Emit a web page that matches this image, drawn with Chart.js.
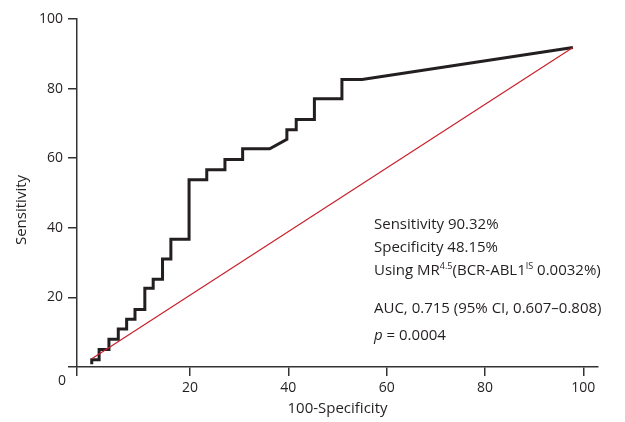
<!DOCTYPE html>
<html lang="en">
<head>
  <meta charset="UTF-8">
  <title>ROC curve</title>
  <script src="https://cdn.jsdelivr.net/npm/chart.js"></script>
  <style>
    body {
      margin: 0;
      padding: 0;
      background: white;
    }
  </style>
</head>
<body>
  <canvas id="rocChart" width="625" height="422"></canvas>

  <script>
    // ROC curve corners (100-specificity, sensitivity)
    const rocX = [0, 0, 1.5, 1.5, 3.5, 3.5, 5.4, 5.4, 7.1, 7.1, 8.8, 8.8, 10.8, 10.8, 12.5, 12.5, 14.4, 14.4, 16.1, 16.1,
                  19.8, 19.8, 23.4, 23.4, 27.1, 27.1, 30.7, 30.7, 36.2, 39.7, 39.7, 41.6, 41.6, 45.3, 45.3, 50.9, 50.9, 55.0, 97.9];
    const rocY = [0.8, 2.1, 2.1, 5.0, 5.0, 8.0, 8.0, 10.9, 10.9, 13.7, 13.7, 16.5, 16.5, 22.6, 22.6, 25.2, 25.2, 31.0, 31.0, 36.7,
                  36.7, 53.8, 53.8, 56.7, 56.7, 59.6, 59.6, 62.7, 62.7, 65.4, 68.2, 68.2, 71.1, 71.1, 77.1, 77.1, 82.6, 82.6, 91.8];
    // reference (chance) line
    const refX = [0, 97.9];
    const refY = [2.4, 91.8];

    const xTicks = [20, 40, 60, 80, 100];
    const yTicks = [0, 20, 40, 60, 80, 100];

    const textColor = '#231f20';
    const axisColor = '#333';
    const fontFamily = "'Open Sans', sans-serif";

    // extra text: corner 0, y title, and the stats box
    const notesPlugin = {
      id: 'notes',
      afterDraw(chart) {
        const ctx = chart.ctx;
        ctx.save();
        ctx.fillStyle = textColor;
        ctx.textBaseline = 'middle';

        ctx.font = `14px ${fontFamily}`;
        ctx.textAlign = 'center';
        ctx.fillText('0', 62, 381);

        ctx.save();
        ctx.translate(22, 210);
        ctx.rotate(-Math.PI / 2);
        ctx.font = `15px ${fontFamily}`;
        ctx.fillText('Sensitivity', 0, 0);
        ctx.restore();

        ctx.textAlign = 'left';
        const drawParts = (parts, x, y) => {
          parts.forEach(p => {
            ctx.font = p.font;
            ctx.fillText(p.text, x, y + (p.dy || 0));
            x += ctx.measureText(p.text).width;
          });
        };
        const f = `15px ${fontFamily}`;
        const sup = `9px ${fontFamily}`;
        const left = 374;
        drawParts([{ text: 'Sensitivity 90.32%', font: f }], left, 225);
        drawParts([{ text: 'Specificity 48.15%', font: f }], left, 248);
        drawParts([
          { text: 'Using MR', font: f },
          { text: '4.5', font: sup, dy: -5 },
          { text: '(BCR-ABL1', font: f },
          { text: 'IS', font: sup, dy: -5 },
          { text: ' 0.0032%)', font: f }
        ], left, 271);
        drawParts([{ text: 'AUC, 0.715 (95% CI, 0.607\u20130.808)', font: f }], left, 309);
        drawParts([
          { text: 'p', font: `italic 15px ${fontFamily}` },
          { text: ' = 0.0004', font: f }
        ], left, 336);
        ctx.restore();
      }
    };

    const rocCtx = document.getElementById('rocChart').getContext('2d');
    const rocChart = new Chart(rocCtx, {
      type: 'line',
      data: {
        datasets: [{
          label: 'Reference',
          data: refX.map((x, i) => ({ x: x, y: refY[i] })),
          borderColor: '#c8202b',
          borderWidth: 1.2,
          pointRadius: 0,
          order: 0
        }, {
          label: 'ROC',
          data: rocX.map((x, i) => ({ x: x, y: rocY[i] })),
          borderColor: '#231f20',
          borderWidth: 3,
          pointRadius: 0,
          borderJoinStyle: 'miter',
          order: 1
        }]
      },
      options: {
        responsive: false,
        animation: false,
        layout: {
          padding: { top: 19, right: 27, left: 0, bottom: 0 }
        },
        scales: {
          x: {
            type: 'linear',
            min: -3,
            max: 103,
            afterBuildTicks: (scale) => {
              scale.ticks = [-3, ...xTicks].map(v => ({ value: v }));
            },
            afterFit: (scale) => { scale.height = 55; },
            grid: {
              drawOnChartArea: false,
              tickLength: 9,
              color: axisColor,
              lineWidth: 1.5
            },
            border: { display: true, color: axisColor, width: 1.5 },
            ticks: {
              autoSkip: false,
              maxRotation: 0,
              padding: 4,
              color: textColor,
              font: { family: fontFamily, size: 14 },
              callback: (v) => v < 0 ? '' : v
            },
            title: {
              display: true,
              text: '100-Specificity',
              color: textColor,
              font: { family: fontFamily, size: 15 },
              padding: { top: 0, bottom: 4 }
            }
          },
          y: {
            type: 'linear',
            min: 0,
            max: 100,
            afterBuildTicks: (scale) => {
              scale.ticks = yTicks.map(v => ({ value: v }));
            },
            afterFit: (scale) => { scale.width = 77; },
            grid: {
              drawOnChartArea: false,
              tickLength: 9,
              color: axisColor,
              lineWidth: 1.5
            },
            border: { display: true, color: axisColor, width: 1.5 },
            ticks: {
              padding: 5,
              color: textColor,
              font: { family: fontFamily, size: 14 },
              callback: (v) => v === 0 ? '' : v
            }
          }
        },
        plugins: {
          legend: { display: false },
          tooltip: { enabled: false }
        }
      },
      plugins: [notesPlugin]
    });
  </script>
</body>
</html>
